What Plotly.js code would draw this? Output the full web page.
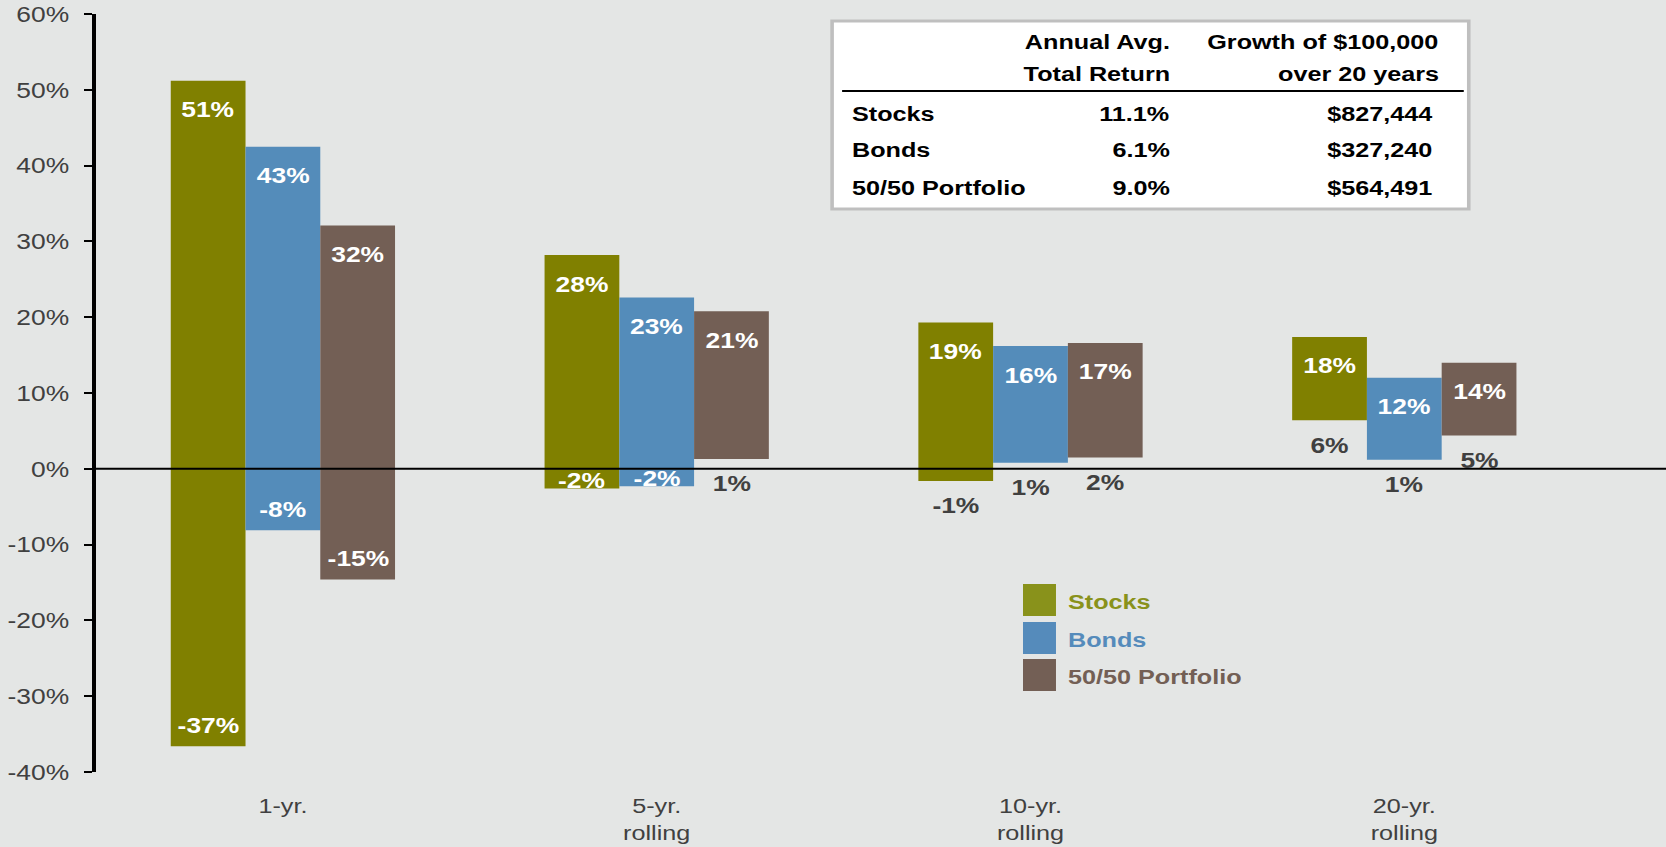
<!DOCTYPE html>
<html>
<head>
<meta charset="utf-8">
<script src="https://cdn.plot.ly/plotly-3.0.1.min.js"></script>
<style>
  html, body { margin: 0; padding: 0; background: #e4e6e5; overflow: hidden; }
  /* the source slide was stretched sideways, so draw narrow and stretch the whole chart */
  #chart { width: 1389px; height: 847px; transform: scaleX(1.2); transform-origin: 0 0; }
</style>
</head>
<body>
<div id="chart"></div>
<script>
// Range of returns by holding period: stocks, bonds and a 50/50 mix
const periods = ['1-yr.', '5-yr.<br>rolling', '10-yr.<br>rolling', '20-yr.<br>rolling'];
const seriesNames = ['Stocks', 'Bonds', '50/50 Portfolio'];

// best / worst period return (%)
const stocksHigh = [51.2, 28.2, 19.3, 17.4];
const stocksLow = [-36.6, -2.6, -1.6, 6.4];
const bondsHigh = [42.5, 22.6, 16.2, 12.0];
const bondsLow = [-8.1, -2.3, 0.8, 1.2];
const portHigh = [32.1, 20.8, 16.6, 14.0];
const portLow = [-14.6, 1.3, 1.5, 4.4];

// printed labels
const stocksHighLbl = ['51%', '28%', '19%', '18%'];
const stocksLowLbl = ['-37%', '-2%', '-1%', '6%'];
const bondsHighLbl = ['43%', '23%', '16%', '12%'];
const bondsLowLbl = ['-8%', '-2%', '1%', '1%'];
const portHighLbl = ['32%', '21%', '17%', '14%'];
const portLowLbl = ['-15%', '1%', '2%', '5%'];

// table in the top right
const tableHead = [['Annual Avg.', 'Growth of $100,000'], ['Total Return', 'over 20 years']];
const tableRows = ['Stocks', 'Bonds', '50/50 Portfolio'];
const tableReturn = ['11.1%', '6.1%', '9.0%'];
const tableGrowth = ['$827,444', '$327,240', '$564,491'];

const yTicks = [-40, -30, -20, -10, 0, 10, 20, 30, 40, 50, 60];

const BG = '#e4e6e5';
const COLORS = ['#808000', '#548cba', '#735f55'];
const LEGEND_COLORS = ['#89921b', '#558bbb', '#735f55'];
const FONT = '"Liberation Sans", Arial, sans-serif';
const GREY = '#404040';

// geometry (full-image pixels -> pre-stretch layout)
const S = 1.2, W = 1389, H = 847;
const ML = 95.5 / S, MR = W - 1591.5 / S, MT = 14, MB = 75;
const PW = W - ML - MR, PH = H - MT - MB;
const px = x => (x / S - ML) / PW;
const py = y => (H - MB - y) / PH;

const highs = [stocksHigh, bondsHigh, portHigh];
const lows = [stocksLow, bondsLow, portLow];
const highLbl = [stocksHighLbl, bondsHighLbl, portHighLbl];
const lowLbl = [stocksLowLbl, bondsLowLbl, portLowLbl];
// where the low label sits: inside the bar, on the bar's edge, or under it
const lowPlace = [
  ['in', 'edge', 'out', 'out'],
  ['in', 'edge', 'out', 'out'],
  ['in', 'out', 'out', 'out'],
];
const xIdx = periods.map((_, i) => i);

const traces = seriesNames.map((name, k) => ({
  type: 'bar', name,
  x: xIdx,
  base: lows[k],
  y: highs[k].map((h, i) => h - lows[k][i]),
  marker: { color: COLORS[k], line: { width: 0 } },
  hoverinfo: 'skip',
}));

const annotations = [];
const barW = 0.2;
seriesNames.forEach((_, k) => {
  xIdx.forEach(i => {
    const xc = i + (k - 1) * barW;
    annotations.push({
      x: xc, y: highs[k][i], yshift: -29, text: highLbl[k][i], showarrow: false,
      xanchor: 'center', yanchor: 'middle',
      font: { family: FONT, size: 22, color: '#ffffff', weight: 'bold' },
    });
    const where = lowPlace[k][i];
    const shift = where === 'in' ? 21 : where === 'edge' ? 8 : -25;
    annotations.push({
      x: xc, y: lows[k][i], yshift: shift, text: lowLbl[k][i], showarrow: false,
      xanchor: 'center', yanchor: 'middle',
      font: { family: FONT, size: 22, color: where === 'out' ? GREY : '#ffffff', weight: 'bold' },
    });
  });
});

// table text
const tFont = { family: FONT, size: 21, color: '#000000', weight: 'bold' };
const headY = [42, 73], rowY = [113, 150, 187];
tableHead.forEach((row, r) => {
  annotations.push({ xref: 'paper', yref: 'paper', x: px(1173), y: py(headY[r]), text: row[0],
    showarrow: false, xanchor: 'right', yanchor: 'middle', font: tFont });
  annotations.push({ xref: 'paper', yref: 'paper', x: px(1442), y: py(headY[r]), text: row[1],
    showarrow: false, xanchor: 'right', yanchor: 'middle', font: tFont });
});
tableRows.forEach((name, r) => {
  annotations.push({ xref: 'paper', yref: 'paper', x: px(850), y: py(rowY[r]), text: name,
    showarrow: false, xanchor: 'left', yanchor: 'middle', font: tFont });
  annotations.push({ xref: 'paper', yref: 'paper', x: px(1173), y: py(rowY[r]), text: tableReturn[r],
    showarrow: false, xanchor: 'right', yanchor: 'middle', font: tFont });
  annotations.push({ xref: 'paper', yref: 'paper', x: px(1435), y: py(rowY[r]), text: tableGrowth[r],
    showarrow: false, xanchor: 'right', yanchor: 'middle', font: tFont });
});

const shapes = [
  // zero line runs past the plot to the page edge
  { type: 'line', xref: 'paper', yref: 'y', x0: 0, x1: 1.1, y0: 0, y1: 0,
    line: { color: '#000000', width: 2 } },
  // table box and header rule
  { type: 'rect', xref: 'paper', yref: 'paper', x0: px(832), x1: px(1469), y0: py(209), y1: py(21),
    fillcolor: '#ffffff', line: { color: '#bfbfbf', width: 3 } },
  { type: 'line', xref: 'paper', yref: 'paper', x0: px(842), x1: px(1464), y0: py(91), y1: py(91),
    line: { color: '#000000', width: 2 } },
];

// hand-drawn legend with big swatches
const legY = [600, 638, 675];
seriesNames.forEach((name, k) => {
  shapes.push({ type: 'rect', xref: 'paper', yref: 'paper',
    x0: px(1023), x1: px(1056), y0: py(legY[k] + 16), y1: py(legY[k] - 16),
    fillcolor: LEGEND_COLORS[k], line: { width: 0 } });
  annotations.push({ xref: 'paper', yref: 'paper', x: px(1066), y: py(legY[k] + 1), text: name,
    showarrow: false, xanchor: 'left', yanchor: 'middle',
    font: { family: FONT, size: 21, color: LEGEND_COLORS[k], weight: 'bold' } });
});

const layout = {
  width: W, height: H,
  margin: { l: ML, r: MR, t: MT, b: MB, pad: 0 },
  paper_bgcolor: BG, plot_bgcolor: BG,
  barmode: 'group', bargap: 0.4, bargroupgap: 0,
  showlegend: false,
  font: { family: FONT, color: GREY },
  xaxis: {
    range: [-0.5, 3.5], tickvals: xIdx, ticktext: periods,
    showline: false, showgrid: false, zeroline: false, ticks: '',
    ticklabelstandoff: 19,
    tickfont: { family: FONT, size: 21, color: GREY },
  },
  yaxis: {
    range: [-40, 60], tickvals: yTicks, ticktext: yTicks.map(v => v + '%'),
    showline: true, linecolor: '#000000', linewidth: 3,
    ticks: 'outside', ticklen: 7, tickwidth: 2, tickcolor: '#000000',
    ticklabelstandoff: 8,
    showgrid: false, zeroline: false,
    tickfont: { family: FONT, size: 22, color: GREY },
  },
  shapes, annotations,
};

Plotly.newPlot('chart', traces, layout, { displayModeBar: false, staticPlot: true });
</script>
</body>
</html>
